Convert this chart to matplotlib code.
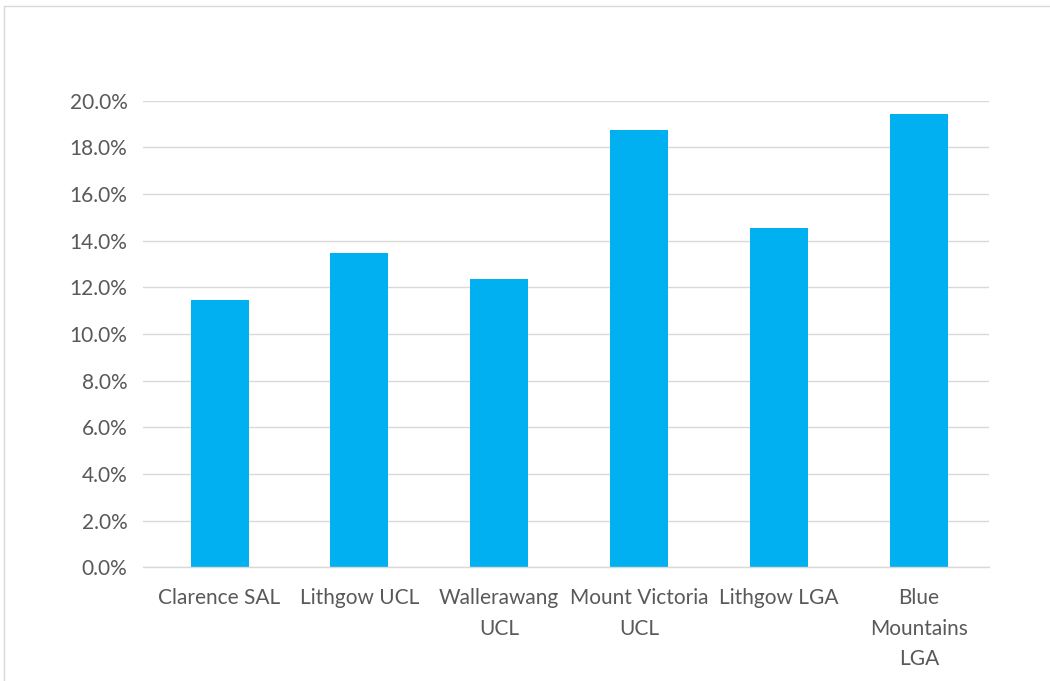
import matplotlib
matplotlib.use("Agg")
import matplotlib.pyplot as plt
from matplotlib.ticker import FuncFormatter, MultipleLocator
from matplotlib.patches import Rectangle

categories = ["Clarence SAL", "Lithgow UCL", "Wallerawang\nUCL",
              "Mount Victoria\nUCL", "Lithgow LGA", "Blue\nMountains\nLGA"]
values = [0.1144, 0.1346, 0.1236, 0.1874, 0.1454, 0.1943]

bar_color = "#00B0F0"
grid_color = "#D9D9D9"
text_color = "#595959"

plt.rcParams["font.family"] = ["Lato", "DejaVu Sans"]

fig = plt.figure(figsize=(10.5, 6.81), dpi=100)
fig.patch.set_facecolor("white")

# light frame around the chart area
fig.patches.append(Rectangle((4 / 1050, -0.05), 1.2, (681 - 6) / 681 + 0.05,
                             transform=fig.transFigure, fill=False,
                             edgecolor=grid_color, linewidth=1.0))

ax = fig.add_axes([142.7 / 1050, 1 - 567.3 / 681, (988.7 - 142.7) / 1050,
                   (567.3 - 100.7) / 681])
x = range(len(categories))
ax.bar(x, values, width=0.415, color=bar_color, zorder=3)

ax.set_xlim(-0.55, len(categories) - 0.5)
ax.set_ylim(0, 0.20)
ax.yaxis.set_major_locator(MultipleLocator(0.02))
ax.yaxis.set_major_formatter(FuncFormatter(lambda v, _: f"{v * 100:.1f}%"))
ax.grid(axis="y", color=grid_color, linewidth=1.0, zorder=0)
ax.set_axisbelow(True)

for side in ("top", "right", "left"):
    ax.spines[side].set_visible(False)
ax.spines["bottom"].set_color(grid_color)
ax.spines["bottom"].set_linewidth(1.0)
ax.spines["bottom"].set_zorder(4)

ax.set_xticks(list(x))
ax.set_xticklabels(categories, linespacing=1.65)
ax.tick_params(axis="both", length=0, labelsize=15, colors=text_color)
ax.tick_params(axis="x", pad=15)
ax.tick_params(axis="y", pad=11)

fig.savefig("out.png", dpi=100, facecolor="white")
